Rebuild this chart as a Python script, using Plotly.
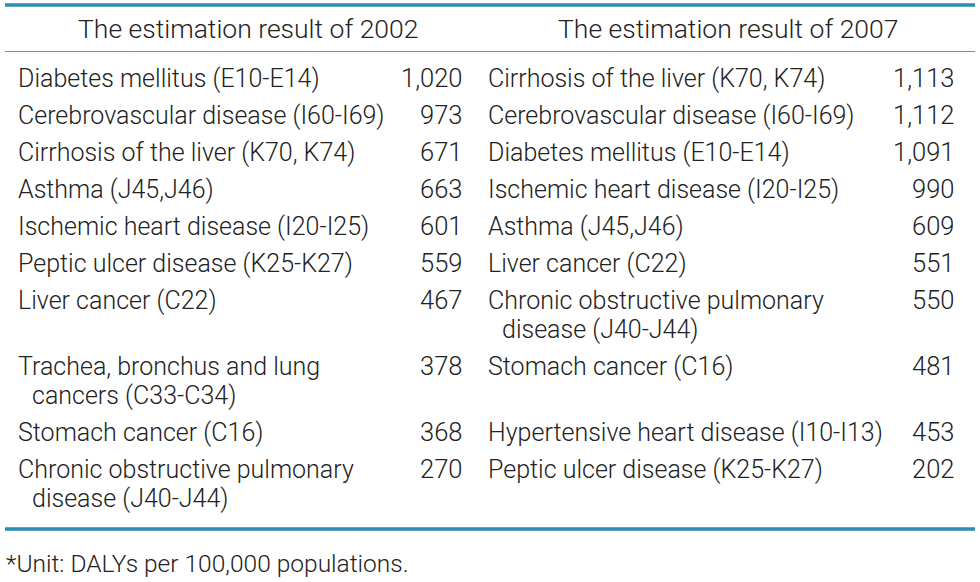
import plotly.graph_objects as go

# ---- data ----
years = ["2002", "2007"]
diseases_2002 = [
    "Diabetes mellitus (E10-E14)",
    "Cerebrovascular disease (I60-I69)",
    "Cirrhosis of the liver (K70, K74)",
    "Asthma (J45,J46)",
    "Ischemic heart disease (I20-I25)",
    "Peptic ulcer disease (K25-K27)",
    "Liver cancer (C22)",
    "Trachea, bronchus and lung<br>cancers (C33-C34)",
    "Stomach cancer (C16)",
    "Chronic obstructive pulmonary<br>disease (J40-J44)",
]
dalys_2002 = [1020, 973, 671, 663, 601, 559, 467, 378, 368, 270]
diseases_2007 = [
    "Cirrhosis of the liver (K70, K74)",
    "Cerebrovascular disease (I60-I69)",
    "Diabetes mellitus (E10-E14)",
    "Ischemic heart disease (I20-I25)",
    "Asthma (J45,J46)",
    "Liver cancer (C22)",
    "Chronic obstructive pulmonary<br>disease (J40-J44)",
    "Stomach cancer (C16)",
    "Hypertensive heart disease (I10-I13)",
    "Peptic ulcer disease (K25-K27)",
]
dalys_2007 = [1113, 1112, 1091, 990, 609, 551, 550, 481, 453, 202]
footnote = "*Unit: DALYs per 100,000 populations."

# ---- layout constants ----
W, H = 980, 582
FONT = "Roboto"
TXT = "#222222"
TEAL = "#2b8db0"
fs = 25
line_gap = 29
single_h = 37

fig = go.Figure()
ann = []

def add_text(x, y, s, anchor="left", size=fs):
    ann.append(dict(x=x, y=y, xref="x", yref="y", text=s, showarrow=False,
                    xanchor=anchor, yanchor="middle",
                    font=dict(family=FONT, size=size, color=TXT, weight=300)))

# headers
add_text(248, 28, "The estimation result of " + years[0], "center", 26.5)
add_text(728, 28, "The estimation result of " + years[1], "center", 26.5)

cols = [
    (diseases_2002, dalys_2002, 16, 464),
    (diseases_2007, dalys_2007, 486, 956),
]

y = 78
for i in range(len(diseases_2002)):
    nlines = max(len(diseases_2002[i].split("<br>")), len(diseases_2007[i].split("<br>")))
    for labels, vals, xl, xr in cols:
        parts = labels[i].split("<br>")
        for j, p in enumerate(parts):
            add_text(xl + (14 if j > 0 else 0), y + j * line_gap, p, "left")
        add_text(xr, y, f"{vals[i]:,}", "right", 25.5)
    y += single_h + (nlines - 1) * line_gap

add_text(4, 563, footnote, "left", 24.5)

shapes = [
    dict(type="line", x0=5, x1=975, y0=5, y1=5, xref="x", yref="y",
         line=dict(color=TEAL, width=3.5)),
    dict(type="line", x0=5, x1=975, y0=51.5, y1=51.5, xref="x", yref="y",
         line=dict(color="#4f9cb6", width=1.2)),
    dict(type="line", x0=5, x1=975, y0=529, y1=529, xref="x", yref="y",
         line=dict(color=TEAL, width=3.5)),
]

fig.add_trace(go.Scatter(x=[0, W], y=[0, H], mode="markers",
                         marker=dict(opacity=0), hoverinfo="skip", showlegend=False))

fig.update_layout(
    width=W, height=H,
    margin=dict(l=0, r=0, t=0, b=0),
    paper_bgcolor="white", plot_bgcolor="white",
    xaxis=dict(range=[0, W], visible=False, fixedrange=True),
    yaxis=dict(range=[H, 0], visible=False, fixedrange=True),
    annotations=ann, shapes=shapes,
)

fig.write_html("out.html", config={"displayModeBar": False},
               post_script="document.body.style.margin='0';document.body.style.overflow='hidden';")
